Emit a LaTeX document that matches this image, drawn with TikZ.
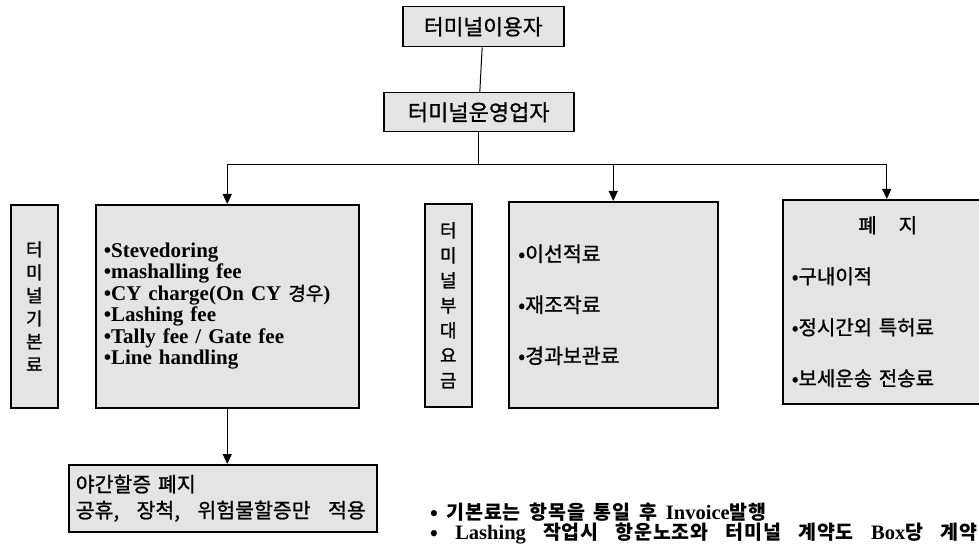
\documentclass[tikz,border=0pt]{standalone}
\usepackage{fontspec}
\setmainfont{Noto Sans CJK KR}
\newfontfamily\krh{Noto Sans CJK KR}[FakeBold=1]
\newfontfamily\tm{Liberation Serif}
\newcommand\notesp{\addfontfeature{LetterSpace=4}\spaceskip=0.45em plus 1em\relax}
\usetikzlibrary{arrows.meta}
\begin{document}
\begin{tikzpicture}[x=1pt,y=-1pt,
  box/.style={draw=black, line width=1.5pt, fill=gray!21, anchor=north west, inner sep=0pt},
  arr/.style={line width=1pt, -{Triangle[length=10pt,width=9pt]}},
  ln/.style={line width=1pt},
  vlabel/.style={box, align=center, minimum width=47pt, minimum height=203pt},
  note/.style={anchor=base west, inner sep=0pt, font=\bfseries\fontsize{19.5}{22}\selectfont}]
\useasboundingbox (0,0) rectangle (979,548);

% top boxes
\node[box, font=\krh\fontsize{21.5}{24}\selectfont, minimum width=161pt, minimum height=40pt] (user) at (402,6) {터미널이용자};
\node[box, font=\krh\fontsize{22}{24}\selectfont, minimum width=190pt, minimum height=39pt] (oper) at (383,92) {터미널운영업자};

% vertical labels
\node[vlabel, font=\krh\fontsize{18}{23}\selectfont] (basic) at (10,204) {터\\미\\널\\기\\본\\료};
\node[vlabel, font=\krh\fontsize{18}{25}\selectfont] (extra) at (424,203) {터\\미\\널\\부\\대\\요\\금};

% main boxes
\node[box, minimum width=263pt, minimum height=203pt, align=left, text width=253pt,
      font=\tm\bfseries\fontsize{21}{21.5}\selectfont] (fees) at (95,204)
  {\hspace*{3pt}•Stevedoring\\\hspace*{3pt}•mashalling fee\\\hspace*{3pt}•CY charge(On CY {\krh\mdseries\fontsize{19}{21.5}\selectfont 경우})\\\hspace*{3pt}•Lashing fee\\\hspace*{3pt}•Tally fee / Gate fee\\\hspace*{3pt}•Line handling};
\node[box, minimum width=209pt, minimum height=206pt, align=left, text width=190pt,
      font=\krh\fontsize{20.5}{51}\selectfont] (sub) at (508,201)
  {•이선적료\\•재조작료\\•경과보관료};
\node[box, minimum width=208pt, minimum height=204pt, align=left, text width=190pt,
      font=\krh\fontsize{20}{51}\selectfont] (abol) at (782,199)
  {\makebox[192pt]{폐\hspace{1.1em}지}\\•구내이적\\•정시간외 특허료\\•보세운송 전송료};

% bottom box
\node[box, minimum width=308pt, minimum height=67pt, align=left, text width=294pt,
      font=\krh\fontsize{20.5}{26}\selectfont] (night) at (68,464)
  {야간할증 폐지\\\makebox[290pt][s]{공휴,\hskip 6pt plus 20pt 장척,\hskip 6pt plus 20pt 위험물할증만\hskip 6pt plus 20pt 적용}};

% notes
\node[note] (n1) at (430,519) {\notesp • 기본료는 항목을 통일 후 {\tm\fontsize{20.5}{22}\selectfont Invoice}발행};
\node[note] (n2) at (430,539) {\makebox[547pt][s]{\notesp • {\tm\fontsize{20.5}{22}\selectfont Lashing} 작업시 항운노조와 터미널 계약도 {\tm\fontsize{20.5}{22}\selectfont Box}당 계약}};

% connectors
\coordinate (jm) at (oper.south |- 0,165);
\coordinate (jl) at (fees.north |- 0,165);
\coordinate (jc) at (sub.north |- 0,165);
\coordinate (jr) at (abol.north |- 0,165);
\draw[ln] (user) -- (oper);
\draw[ln] (oper.south) -- (jm);
\draw[ln] (jl) -- (jr);
\draw[arr] (jl) -- (fees.north);
\draw[arr] (jc) -- (sub.north);
\draw[arr] (jr) -- (abol.north);
\draw[arr] (fees.south) -- (fees.south |- night.north);
\end{tikzpicture}
\end{document}
